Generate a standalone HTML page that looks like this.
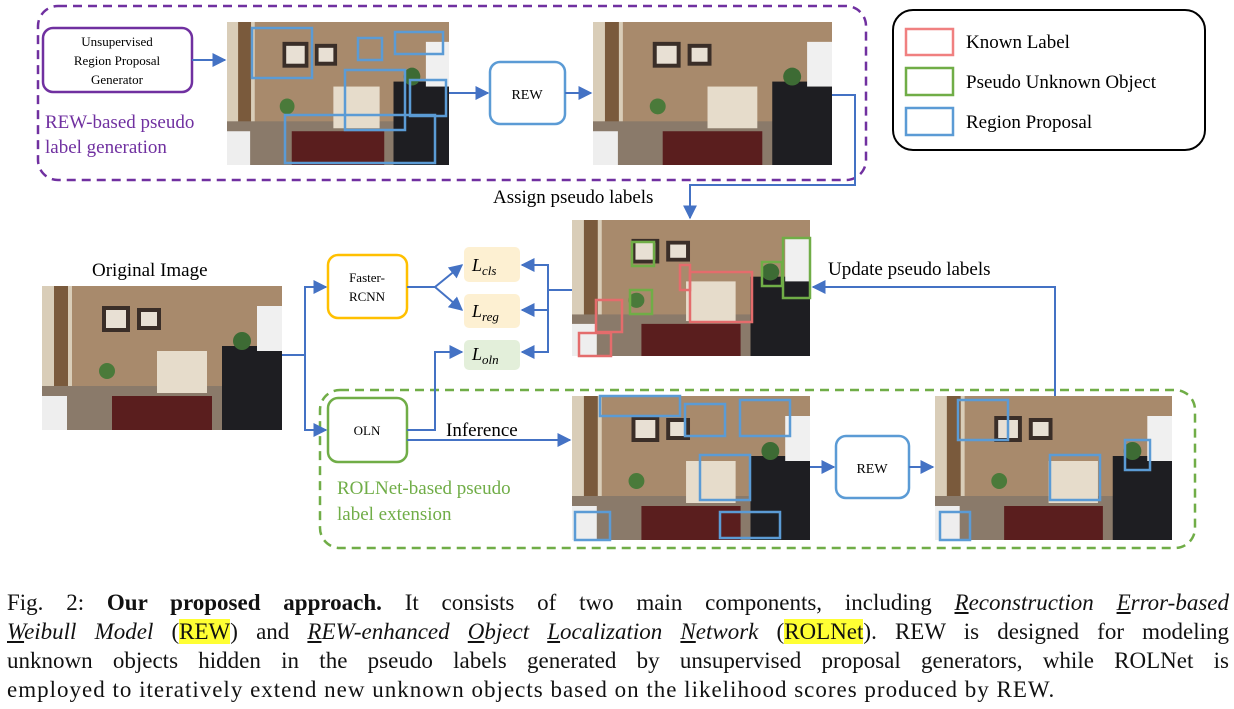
<!DOCTYPE html>
<html><head><meta charset="utf-8"><style>
body{margin:0;width:1234px;height:709px;background:#fff;position:relative;overflow:hidden;font-family:"Liberation Serif",serif}
.a{position:absolute}
.cap{position:absolute;left:7px;top:588px;width:1222px;font-size:23px;line-height:29px;color:#111}
.cap div{text-align:justify;text-align-last:justify;white-space:nowrap}
.cap div.l{text-align-last:left;letter-spacing:1px}
.hl{background:#ffff33}
</style></head><body>
<svg class="a" style="left:0;top:0" width="1234" height="580" viewBox="0 0 1234 580">
<defs>
<symbol id="room" viewBox="0 0 240 144" preserveAspectRatio="none">
<rect width="240" height="144" fill="#a88a6c"/>
<rect x="0" y="0" width="30" height="144" fill="#d9cdb8"/>
<rect x="12" y="0" width="14" height="110" fill="#7a5a3c"/>
<rect x="60" y="20" width="28" height="26" fill="#3a2e28"/><rect x="64" y="24" width="20" height="18" fill="#e8e0d4"/>
<rect x="95" y="22" width="24" height="22" fill="#3a2e28"/><rect x="99" y="26" width="16" height="14" fill="#e8e0d4"/>
<rect x="0" y="100" width="240" height="44" fill="#8a7a6a"/>
<rect x="70" y="110" width="100" height="34" fill="#5a1e1e"/>
<rect x="115" y="65" width="50" height="42" fill="#e6dccb"/>
<rect x="180" y="60" width="60" height="84" fill="#1e1e22"/>
<rect x="215" y="20" width="25" height="45" fill="#f0f0f0"/>
<rect x="0" y="110" width="25" height="34" fill="#eee"/>
<circle cx="200" cy="55" r="9" fill="#3d6b34"/><circle cx="65" cy="85" r="8" fill="#4a7a3a"/>
</symbol>
<marker id="ar" viewBox="0 0 10 10" refX="9" refY="5" markerWidth="7" markerHeight="7" orient="auto"><path d="M0,0L10,5L0,10z" fill="#4472c4"/></marker>
</defs>
<rect x="38" y="6" width="828" height="174" rx="20" fill="none" stroke="#7030a0" stroke-width="2.5" stroke-dasharray="9,6"/>
<rect x="320" y="390" width="875" height="158" rx="20" fill="none" stroke="#70ad47" stroke-width="2.5" stroke-dasharray="9,6"/>
<rect x="43" y="28" width="149" height="64" rx="10" fill="#fff" stroke="#7030a0" stroke-width="2.5"/>
<use href="#room" x="227" y="22" width="222" height="143"/>
<use href="#room" x="593" y="22" width="239" height="143"/>
<use href="#room" x="572" y="220" width="238" height="136"/>
<use href="#room" x="42" y="286" width="240" height="144"/>
<use href="#room" x="572" y="396" width="238" height="144"/>
<use href="#room" x="935" y="396" width="237" height="144"/>
<g fill="none" stroke="#5b9bd5" stroke-width="2.5">
<rect x="252" y="28" width="60" height="50"/><rect x="358" y="38" width="24" height="22"/><rect x="395" y="32" width="48" height="22"/>
<rect x="345" y="70" width="60" height="60"/><rect x="285" y="115" width="150" height="48"/><rect x="410" y="80" width="36" height="36"/>
<rect x="600" y="396" width="80" height="20"/><rect x="685" y="404" width="40" height="32"/><rect x="740" y="400" width="50" height="36"/>
<rect x="700" y="455" width="50" height="45"/><rect x="720" y="512" width="60" height="26"/><rect x="575" y="512" width="35" height="28"/>
<rect x="958" y="400" width="50" height="40"/><rect x="1050" y="455" width="50" height="45"/><rect x="940" y="512" width="30" height="28"/><rect x="1125" y="440" width="25" height="30"/>
</g>
<g fill="none" stroke="#e46c6c" stroke-width="2.5"><rect x="690" y="272" width="62" height="50"/><rect x="596" y="300" width="26" height="32"/><rect x="579" y="333" width="32" height="23"/><rect x="680" y="265" width="10" height="25"/></g>
<g fill="none" stroke="#70ad47" stroke-width="2.5"><rect x="632" y="242" width="22" height="24"/><rect x="630" y="290" width="22" height="24"/><rect x="762" y="262" width="20" height="24"/><rect x="783" y="238" width="27" height="60"/></g>
<rect x="490" y="62" width="75" height="62" rx="10" fill="#fff" stroke="#5b9bd5" stroke-width="2.5"/>
<rect x="836" y="436" width="73" height="62" rx="10" fill="#fff" stroke="#5b9bd5" stroke-width="2.5"/>
<rect x="328" y="255" width="79" height="63" rx="10" fill="#fff" stroke="#ffc000" stroke-width="2.5"/>
<rect x="328" y="398" width="79" height="64" rx="10" fill="#fff" stroke="#70ad47" stroke-width="2.5"/>
<rect x="464" y="247" width="56" height="35" rx="5" fill="#fdf0d2"/>
<rect x="464" y="294" width="56" height="34" rx="5" fill="#fdf0d2"/>
<rect x="464" y="340" width="56" height="30" rx="5" fill="#e3efda"/>
<rect x="893" y="10" width="312" height="140" rx="20" fill="#fff" stroke="#000" stroke-width="2"/>
<rect x="906" y="29" width="47" height="26" fill="none" stroke="#f08080" stroke-width="2.5"/>
<rect x="906" y="68" width="47" height="27" fill="none" stroke="#70ad47" stroke-width="2.5"/>
<rect x="906" y="108" width="47" height="27" fill="none" stroke="#5b9bd5" stroke-width="2.5"/>
<g fill="none" stroke="#4472c4" stroke-width="2">
<path d="M192,60H225" marker-end="url(#ar)"/><path d="M449,93H488" marker-end="url(#ar)"/><path d="M565,93H591" marker-end="url(#ar)"/>
<path d="M832,95H855V185H690V218" marker-end="url(#ar)"/>
<path d="M282,355H305V287H326" marker-end="url(#ar)"/><path d="M305,355V430H326" marker-end="url(#ar)"/>
<path d="M407,287H435L462,265" marker-end="url(#ar)"/><path d="M435,287L462,310" marker-end="url(#ar)"/>
<path d="M407,430H435V352H462" marker-end="url(#ar)"/>
<path d="M572,290H548V265H522" marker-end="url(#ar)"/><path d="M548,290V310H522" marker-end="url(#ar)"/><path d="M548,310V352H522" marker-end="url(#ar)"/>
<path d="M407,440H570" marker-end="url(#ar)"/><path d="M810,467H834" marker-end="url(#ar)"/><path d="M909,467H933" marker-end="url(#ar)"/>
<path d="M1055,396V287H813" marker-end="url(#ar)"/>
</g>
<g font-family="Liberation Serif,serif" fill="#000">
<text x="117" y="46" font-size="13" text-anchor="middle">Unsupervised</text>
<text x="117" y="65" font-size="13" text-anchor="middle">Region Proposal</text>
<text x="117" y="84" font-size="13" text-anchor="middle">Generator</text>
<text x="45" y="128" font-size="19" fill="#7030a0">REW-based pseudo</text>
<text x="45" y="153" font-size="19" fill="#7030a0">label generation</text>
<text x="527" y="99" font-size="14" text-anchor="middle">REW</text>
<text x="872" y="473" font-size="14" text-anchor="middle">REW</text>
<text x="367" y="282" font-size="13" text-anchor="middle">Faster-</text>
<text x="367" y="301" font-size="13" text-anchor="middle">RCNN</text>
<text x="367" y="435" font-size="13" text-anchor="middle">OLN</text>
<text x="966" y="48" font-size="19">Known Label</text>
<text x="966" y="88" font-size="19">Pseudo Unknown Object</text>
<text x="966" y="128" font-size="19">Region Proposal</text>
<text x="493" y="203" font-size="19">Assign pseudo labels</text>
<text x="92" y="276" font-size="19">Original Image</text>
<text x="828" y="275" font-size="19">Update pseudo labels</text>
<text x="446" y="436" font-size="19">Inference</text>
<text x="337" y="494" font-size="19" fill="#70ad47">ROLNet-based pseudo</text>
<text x="337" y="520" font-size="19" fill="#70ad47">label extension</text>
<text x="472" y="271" font-size="18" font-style="italic">L<tspan font-size="13" dy="4">cls</tspan></text>
<text x="472" y="317" font-size="18" font-style="italic">L<tspan font-size="13" dy="4">reg</tspan></text>
<text x="472" y="360" font-size="18" font-style="italic">L<tspan font-size="13" dy="4">oln</tspan></text>
</g>
</svg>
<div class="cap">
<div>Fig. 2: <b>Our proposed approach.</b> It consists of two main components, including <i><u>R</u>econstruction <u>E</u>rror-based</i></div>
<div><i><u>W</u>eibull Model</i> (<span class="hl">REW</span>) and <i><u>R</u>EW-enhanced <u>O</u>bject <u>L</u>ocalization <u>N</u>etwork</i> (<span class="hl">ROLNet</span>). REW is designed for modeling</div>
<div>unknown objects hidden in the pseudo labels generated by unsupervised proposal generators, while ROLNet is</div>
<div class="l">employed to iteratively extend new unknown objects based on the likelihood scores produced by REW.</div>
</div>
</body></html>
